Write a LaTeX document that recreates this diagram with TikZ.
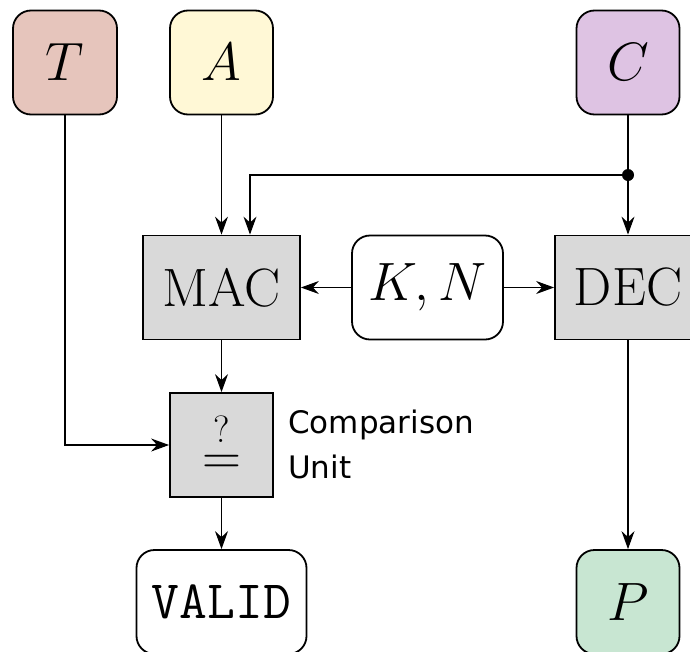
\RequirePackage{fix-cm}
\documentclass[tikz,border=0pt]{standalone}
\usepackage{fontspec}
\newfontfamily\dejavu{DejaVu Sans}
\usetikzlibrary{arrows.meta}
\definecolor{tcol}{HTML}{E6C5BC}
\definecolor{acol}{HTML}{FFF8D6}
\definecolor{ccol}{HTML}{DEC3E3}
\definecolor{pcol}{HTML}{C8E6D2}
\definecolor{graybox}{HTML}{D9D9D9}
\newcommand{\queq}{\vbox{\baselineskip=31.5pt \lineskiplimit=-100pt \lineskip=0pt
  \hbox to 40pt{\hfil\fontsize{38}{38}\selectfont ?\hfil}%
  \hbox to 40pt{\hfil$=$\hfil}}}
\begin{document}
\begin{tikzpicture}[x=1pt,y=-1pt,
  box/.style={draw=black, line width=1.8pt, minimum height=104pt, inner sep=0pt,
    font=\fontsize{54}{60}\selectfont},
  rbox/.style={box, rounded corners=18pt},
  sq/.style={box, fill=graybox},
  conn/.style={line width=1.1pt, -{Stealth[length=18pt,width=13pt,inset=6pt]}},
  plain/.style={line width=1.1pt}]
\fill[white] (0,0) rectangle (690,651);
\useasboundingbox (0,0) rectangle (690,651);
\clip (0,0) rectangle (690,651);

\node[rbox, fill=tcol, minimum width=104pt] (T) at (65,62.5) {$T$};
\node[rbox, fill=acol, minimum width=103pt] (A) at (221.5,62.5) {$A$};
\node[rbox, fill=ccol, minimum width=103pt] (C) at (628,62.5) {$C$};
\node[sq, minimum width=157pt] (MAC) at (221.5,287.5) {MAC};
\node[rbox, fill=white, minimum width=151pt] (KN) at (427.5,287.5) {$K,N$};
\node[sq, minimum width=146pt] (DEC) at (628,287.5) {DEC};
\node[sq, minimum width=103pt] (CMP) at (221.5,445) {\queq};
\node[rbox, fill=white, minimum width=170pt, font=\fontsize{54}{60}\selectfont\ttfamily] (VALID) at (221.5,602) {VALID};
\node[rbox, fill=pcol, minimum width=103pt] (P) at (628,602) {$P$};
\node[circle, fill=black, inner sep=0pt, minimum size=12pt] (dot) at (628,175) {};
\node[anchor=west, inner sep=0pt, align=left, font=\dejavu\fontsize{31}{39}\selectfont] (lbl) at (288,444) {Comparison\\[6pt]Unit};

\draw[plain] (C.south) -- (dot.center);
\draw[conn] (dot.center) -- (DEC.north);
\draw[conn] (dot.center) -| ([xshift=28.5pt]MAC.north);
\draw[conn] (A.south) -- (MAC.north);
\draw[conn] (T.south) |- (CMP.west);
\draw[conn] (KN.west) -- (MAC.east);
\draw[conn] (KN.east) -- (DEC.west);
\draw[conn] (MAC.south) -- (CMP.north);
\draw[conn] (CMP.south) -- (VALID.north);
\draw[conn] (DEC.south) -- (P.north);
\end{tikzpicture}
\end{document}
